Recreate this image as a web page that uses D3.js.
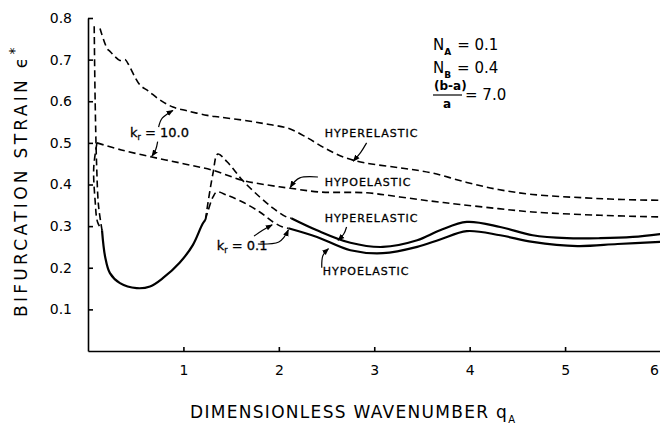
<!DOCTYPE html>
<html>
<head>
<meta charset="utf-8">
<script src="https://cdn.jsdelivr.net/npm/d3@7"></script>
<style>
  body { margin: 0; background: #fff; }
  svg { display: block; font-family: 'DejaVu Sans', sans-serif; }
  .axis path, .axis line { stroke: #000; stroke-width: 1.6; }
  .axis text { font-size: 14px; fill: #000; font-family: 'DejaVu Sans', sans-serif; }
  .curve { fill: none; stroke: #000; }
  .dashed { stroke-width: 1.6; stroke-dasharray: 7 4; }
  .solid { stroke-width: 2.2; }
  .lead { fill: none; stroke: #000; stroke-width: 1.2; }
  .lbl { font-size: 11px; fill: #000; stroke: #000; stroke-width: 0.3; }
</style>
</head>
<body>
<div id="chart"></div>
<script>
// wavenumber q_A vs bifurcation strain
const xTicks = [1, 2, 3, 4, 5, 6]
const yTicks = [0.1, 0.2, 0.3, 0.4, 0.5, 0.6, 0.7, 0.8]

// k_r = 10.0 (dashed)
const hyperKr10 = [[0.126,0.775],[0.2,0.727],[0.23,0.72],[0.335,0.698],[0.39,0.70],[0.42,0.69],
    [0.545,0.639],[0.63,0.625],[0.755,0.603],[0.89,0.586],[1.04,0.577],[1.25,0.566],[1.38,0.562],
    [1.7,0.552],[1.9,0.544],[2.1,0.535],[2.3,0.512],[2.5,0.485],[2.7,0.464],[2.9,0.452],[3.27,0.44],
    [3.6,0.428],[3.97,0.405],[4.3,0.388],[4.66,0.376],[5.2,0.368],[5.6,0.364],[6.0,0.362]]
const hypoKr10 = [[0.094,0.5],[0.35,0.483],[0.67,0.466],[1.0,0.45],[1.31,0.434],[1.62,0.41],[1.9,0.398],
    [2.12,0.391],[2.43,0.382],[2.92,0.38],[3.27,0.37],[3.6,0.36],[3.9,0.352],[4.3,0.342],[4.66,0.334],
    [5.37,0.326],[6.0,0.322]]

// k_r = 0.1, near-vertical dashed branches at small q
const hyperKr01Left = [[0.065,0.78],[0.075,0.6],[0.09,0.45],[0.11,0.35],[0.147,0.29]]
const hypoKr01Left = [[0.094,0.5],[0.06,0.44],[0.075,0.36],[0.1,0.31],[0.147,0.29]]
// k_r = 0.1, common solid branch
const kr01Solid = [[0.147,0.29],[0.18,0.226],[0.23,0.187],[0.335,0.163],[0.51,0.151],[0.65,0.155],
    [0.79,0.176],[0.96,0.212],[1.1,0.255],[1.2,0.305],[1.23,0.315]]
// k_r = 0.1, dashed rise to the peak
const hyperKr01Peak = [[1.23,0.315],[1.31,0.427],[1.36,0.473],[1.46,0.454],[1.62,0.41],[1.8,0.37],
    [1.94,0.343],[2.08,0.322],[2.13,0.319]]
const hypoKr01Peak = [[1.23,0.315],[1.26,0.338],[1.31,0.37],[1.35,0.382],[1.46,0.374],[1.62,0.358],
    [1.8,0.334],[1.94,0.31],[2.04,0.298],[2.1,0.295]]
// k_r = 0.1, solid tails
const hyperKr01Tail = [[2.13,0.319],[2.4,0.29],[2.75,0.26],[3.09,0.25],[3.45,0.266],[3.69,0.29],
    [3.97,0.31],[4.32,0.298],[4.66,0.278],[5.02,0.271],[5.37,0.271],[5.71,0.274],[6.0,0.281]]
const hypoKr01Tail = [[2.1,0.295],[2.4,0.274],[2.75,0.242],[3.09,0.235],[3.45,0.25],[3.69,0.268],
    [3.97,0.288],[4.32,0.278],[4.66,0.262],[5.13,0.252],[5.55,0.257],[6.0,0.262]]

const W = 660, H = 427

let svg = d3.select('#chart').append('svg').attr('width', W).attr('height', H)

let x = d3.scaleLinear().domain([0, 6]).range([88, 660.5])
let y = d3.scaleLinear().domain([0, 0.8]).range([351, 18])

// arrow head for the leader lines
svg.append('defs').append('marker')
    .attr('id', 'head')
    .attr('viewBox', '0 0 10 10')
    .attr('refX', 9).attr('refY', 5)
    .attr('markerWidth', 7).attr('markerHeight', 7)
    .attr('markerUnits', 'userSpaceOnUse')
    .attr('orient', 'auto')
    .append('path').attr('d', 'M0,1 L10,5 L0,9 z').attr('fill', '#000')

// axes, ticks pointing inward
svg.append('g')
    .attr('class', 'axis')
    .attr('transform', 'translate(' + x(0) + ',0)')
    .call(d3.axisLeft(y).tickValues(yTicks).tickSize(-5).tickSizeOuter(0).tickPadding(16)
        .tickFormat(d3.format('.1f')))

let xAxis = svg.append('g')
    .attr('class', 'axis')
    .attr('transform', 'translate(0,' + y(0) + ')')
    .call(d3.axisBottom(x).tickValues(xTicks).tickSize(-4).tickSizeOuter(0).tickPadding(14)
        .tickFormat(d3.format('d')))

// last label sits on the right edge
xAxis.selectAll('.tick text').filter(d => d == 6).attr('text-anchor', 'end').attr('dx', -2)

let line = d3.line().x(d => x(d[0])).y(d => y(d[1])).curve(d3.curveCatmullRom.alpha(0.5))

let dashedSeries = [hyperKr10, hypoKr10, hyperKr01Left, hypoKr01Left, hyperKr01Peak, hypoKr01Peak]
let solidSeries = [kr01Solid, hyperKr01Tail, hypoKr01Tail]

svg.selectAll('.dashed').data(dashedSeries).enter()
    .append('path').attr('class', 'curve dashed').attr('d', line)
svg.selectAll('.solid').data(solidSeries).enter()
    .append('path').attr('class', 'curve solid').attr('d', line)

// curve labels with leader arrows (positions in data units)
const labels = [
    {text: 'HYPERELASTIC', at: [2.48, 0.514], lead: [[2.92,0.5],[2.86,0.478],[2.78,0.456]]},
    {text: 'HYPOELASTIC', at: [2.48, 0.396], lead: [[2.41,0.418],[2.22,0.416],[2.12,0.393]]},
    {text: 'HYPERELASTIC', at: [2.48, 0.31], lead: [[2.71,0.298],[2.68,0.281],[2.62,0.266]]},
    {text: 'HYPOELASTIC', at: [2.46, 0.182], lead: [[2.45,0.2],[2.46,0.228],[2.52,0.246]]}
]

let leader = d3.line().x(d => x(d[0])).y(d => y(d[1])).curve(d3.curveNatural)

labels.forEach(l =>
{
    svg.append('text').attr('class', 'lbl').attr('x', x(l.at[0])).attr('y', y(l.at[1]))
        .attr('letter-spacing', 1).text(l.text)
    svg.append('path').attr('class', 'lead').attr('d', leader(l.lead)).attr('marker-end', 'url(#head)')
})

// k_r labels
function krLabel(at, value)
{
    let t = svg.append('text').attr('class', 'lbl').attr('x', x(at[0])).attr('y', y(at[1]))
        .style('font-size', '13px')
    t.append('tspan').text('k')
    t.append('tspan').attr('dy', 3).style('font-size', '8px').text('r')
    t.append('tspan').attr('dy', -3).text(' = ' + value)
}

krLabel([0.44, 0.514], '10.0')
krLabel([1.35, 0.242], '0.1')

const krLeads = [
    [[0.74,0.538],[0.78,0.56],[0.89,0.578]],
    [[0.73,0.503],[0.71,0.484],[0.67,0.468]],
    [[1.78,0.257],[2.0,0.262],[2.1,0.291]],
    [[1.74,0.276],[1.83,0.29],[1.93,0.303]]
]
krLeads.forEach(p => svg.append('path').attr('class', 'lead').attr('d', leader(p)).attr('marker-end', 'url(#head)'))

// parameters, top right
let params = svg.append('g').style('font-size', '15px')
let pa = params.append('text').attr('x', 433).attr('y', 50)
pa.append('tspan').text('N')
pa.append('tspan').attr('dy', 5).style('font-size', '9px').style('font-weight', 'bold').text('A')
pa.append('tspan').attr('dy', -5).attr('dx', 6).text('= 0.1')

let pb = params.append('text').attr('x', 433).attr('y', 73)
pb.append('tspan').text('N')
pb.append('tspan').attr('dy', 5).style('font-size', '9px').style('font-weight', 'bold').text('B')
pb.append('tspan').attr('dy', -5).attr('dx', 6).text('= 0.4')

params.append('text').attr('x', 434).attr('y', 90).style('font-size', '12px').style('font-weight', 'bold').text('(b-a)')
params.append('line').attr('x1', 433).attr('x2', 462).attr('y1', 95).attr('y2', 95).attr('stroke', '#000').attr('stroke-width', 1.2)
params.append('text').attr('x', 443).attr('y', 108).style('font-size', '12px').style('font-weight', 'bold').text('a')
params.append('text').attr('x', 465).attr('y', 100).text('= 7.0')

// axis titles
let xt = svg.append('text').attr('x', 190).attr('y', 418).style('font-size', '17px').attr('letter-spacing', 1.3)
xt.append('tspan').text('DIMENSIONLESS WAVENUMBER q')
xt.append('tspan').attr('dy', 5).style('font-size', '10px').text('A')

let yt = svg.append('text').attr('transform', 'translate(27,317) rotate(-90)').style('font-size', '17px')
    .attr('letter-spacing', 3.3)
yt.append('tspan').text('BIFURCATION STRAIN \u03f5')
yt.append('tspan').attr('dy', -8).style('font-size', '14px').text('*')
</script>
</body>
</html>
